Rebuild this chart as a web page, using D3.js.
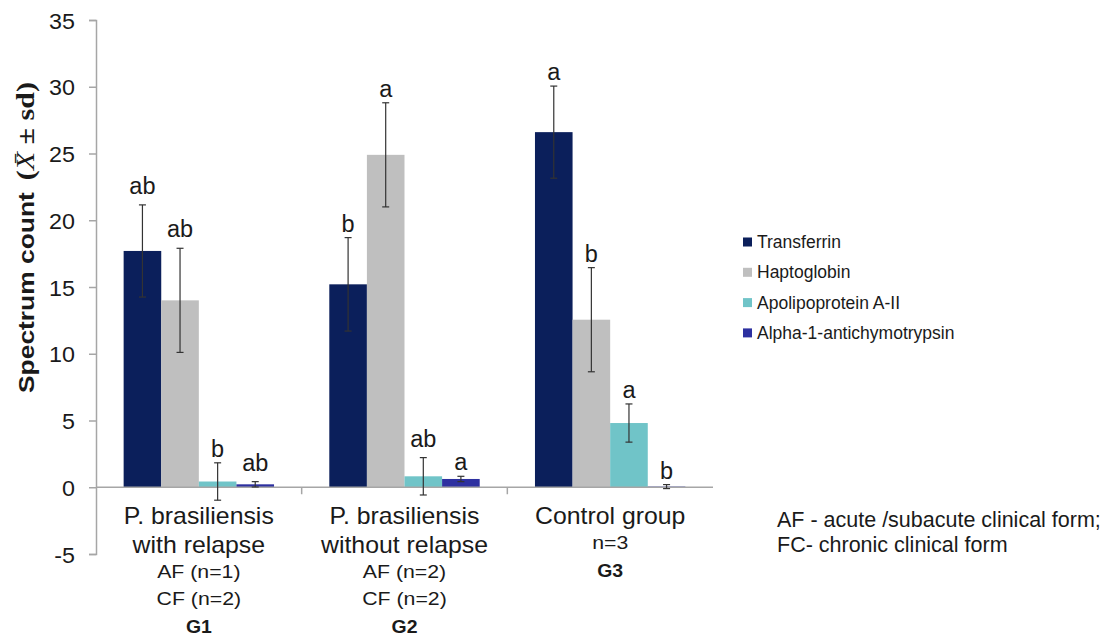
<!DOCTYPE html>
<html>
<head>
<meta charset="utf-8">
<script src="https://cdn.jsdelivr.net/npm/d3@7"></script>
<style>
  body { margin: 0; background: #fff; }
  svg { font-family: Arial, "Liberation Sans", sans-serif; }
</style>
</head>
<body>
<div id="chart"></div>
<script>
// groups on the x axis
var groups = ["G1", "G2", "G3"];
var groupLines = [["P. brasiliensis", "with relapse"], ["P. brasiliensis", "without relapse"], ["Control group"]];
var groupSubLines = [["AF (n=1)", "CF (n=2)"], ["AF (n=2)", "CF (n=2)"], ["n=3"]];

// series
var proteins = ["Transferrin", "Haptoglobin", "Apolipoprotein A-II", "Alpha-1-antichymotrypsin"];
var transferrin = [17.7, 15.2, 26.6];
var transferrinSd = [3.45, 3.5, 3.45];
var haptoglobin = [14.0, 24.9, 12.55];
var haptoglobinSd = [3.9, 3.9, 3.9];
var apolipoprotein = [0.43, 0.82, 4.81];
var apolipoproteinSd = [1.4, 1.4, 1.43];
var antichymotrypsin = [0.22, 0.62, 0.05];
var antichymotrypsinSd = [0.2, 0.2, 0.15];

// significance letters
var transferrinLetters = ["ab", "b", "a"];
var haptoglobinLetters = ["ab", "a", "b"];
var apolipoproteinLetters = ["b", "ab", "a"];
var antichymotrypsinLetters = ["ab", "a", "b"];

var yTicks = [-5, 0, 5, 10, 15, 20, 25, 30, 35];

var colors = ["#0b1f5b", "#bfbfbf", "#70c4c8", "#2d30a0"];

var seriesValues = [transferrin, haptoglobin, apolipoprotein, antichymotrypsin];
var seriesSd = [transferrinSd, haptoglobinSd, apolipoproteinSd, antichymotrypsinSd];
var seriesLetters = [transferrinLetters, haptoglobinLetters, apolipoproteinLetters, antichymotrypsinLetters];

var data = [];
groups.forEach(function(g, gi) {
  proteins.forEach(function(p, pi) {
    data.push({group: g, protein: p, value: seriesValues[pi][gi], sd: seriesSd[pi][gi], letter: seriesLetters[pi][gi], color: colors[pi]});
  });
});

var width = 1119, height = 638;
var txt = "#1a1a1a";
var svg = d3.select("#chart").append("svg")
  .attr("width", width)
  .attr("height", height);

var y = d3.scaleLinear().domain([-5, 35]).range([554, 20]);
var x0 = d3.scaleBand().domain(groups).range([96, 713]).padding(0);
var x1 = d3.scaleBand().domain(proteins).range([0, x0.bandwidth()])
  .paddingInner(0).paddingOuter(0.735);

var axisColor = "#a6a6a6";

// the figure's text is slightly wide, so stretch it sideways a little
function wideText(sel, x, yy, sx) {
  return sel.append("text")
    .attr("transform", "translate(" + x + "," + yy + ") scale(" + sx + ",1)");
}

// y axis
var yAxis = svg.append("g")
  .attr("transform", "translate(96,0)")
  .call(d3.axisLeft(y).tickValues(yTicks).tickSize(7));
yAxis.select(".domain").attr("stroke", axisColor).attr("stroke-width", 1.5);
yAxis.selectAll(".tick line").attr("stroke", axisColor).attr("stroke-width", 1.5);
yAxis.selectAll(".tick text").remove();
yAxis.selectAll(".tick").each(function(d) {
  wideText(d3.select(this), -21, 8, 1.06)
    .attr("text-anchor", "end")
    .attr("font-size", 22)
    .attr("fill", txt)
    .attr("font-family", "Arial, 'Liberation Sans', sans-serif")
    .text(String(d));
});

// bars
svg.selectAll(".bar")
  .data(data)
  .enter().append("rect")
  .attr("class", "bar")
  .attr("x", function(d) { return x0(d.group) + x1(d.protein); })
  .attr("width", x1.bandwidth())
  .attr("y", function(d) { return y(Math.max(0, d.value)); })
  .attr("height", function(d) { return Math.abs(y(d.value) - y(0)); })
  .attr("fill", function(d) { return d.color; });

// x axis line + category ticks
svg.append("line")
  .attr("x1", x0.range()[0]).attr("x2", x0.range()[1])
  .attr("y1", y(0)).attr("y2", y(0))
  .attr("stroke", axisColor).attr("stroke-width", 1.5);
svg.selectAll(".cat-tick")
  .data(groups.slice(1))
  .enter().append("line")
  .attr("class", "cat-tick")
  .attr("x1", function(d) { return x0(d); })
  .attr("x2", function(d) { return x0(d); })
  .attr("y1", y(0)).attr("y2", y(0) + 7)
  .attr("stroke", axisColor).attr("stroke-width", 1.5);

// error bars
var cx = function(d) { return x0(d.group) + x1(d.protein) + x1.bandwidth() / 2; };
var err = svg.selectAll(".err").data(data).enter().append("g").attr("class", "err")
  .attr("stroke", "#333").attr("stroke-width", 1.2);
err.append("line")
  .attr("x1", cx).attr("x2", cx)
  .attr("y1", function(d) { return y(d.value + d.sd); })
  .attr("y2", function(d) { return y(d.value - d.sd); });
err.append("line")
  .attr("x1", function(d) { return cx(d) - 3.5; }).attr("x2", function(d) { return cx(d) + 3.5; })
  .attr("y1", function(d) { return y(d.value + d.sd); })
  .attr("y2", function(d) { return y(d.value + d.sd); });
err.append("line")
  .attr("x1", function(d) { return cx(d) - 3.5; }).attr("x2", function(d) { return cx(d) + 3.5; })
  .attr("y1", function(d) { return y(d.value - d.sd); })
  .attr("y2", function(d) { return y(d.value - d.sd); });

// letters
svg.selectAll(".letter")
  .data(data)
  .enter().append("text")
  .attr("class", "letter")
  .attr("x", cx)
  .attr("y", function(d) { return y(d.value + d.sd) - (d.letter.length > 1 ? 11 : 6); })
  .attr("text-anchor", "middle")
  .attr("font-size", 23.5)
  .attr("fill", txt)
  .text(function(d) { return d.letter; });

// category labels
groups.forEach(function(g, gi) {
  var cxg = x0(g) + x0.bandwidth() / 2;
  var yy = 524;
  groupLines[gi].forEach(function(t, i) {
    wideText(svg, cxg, yy + i * 29, 1.08)
      .attr("text-anchor", "middle").attr("font-size", 23).attr("fill", txt).text(t);
  });
  yy += (groupLines[gi].length - 1) * 29 + 25;
  groupSubLines[gi].forEach(function(t, i) {
    wideText(svg, cxg, yy + i * 27, 1.12)
      .attr("text-anchor", "middle").attr("font-size", 19).attr("fill", txt).text(t);
  });
  yy += (groupSubLines[gi].length - 1) * 27 + 28;
  wideText(svg, cxg, yy, 1.08)
    .attr("text-anchor", "middle").attr("font-size", 18).attr("font-weight", "bold")
    .attr("fill", txt).text(g);
});

// y axis title
var title = svg.append("text")
  .attr("transform", "translate(34,393) rotate(-90) scale(1.2,1)")
  .attr("text-anchor", "start")
  .attr("fill", txt);
title.append("tspan").attr("font-size", 22).attr("font-weight", "bold").text("Spectrum count");
title.append("tspan").attr("font-family", "'Liberation Serif', 'DejaVu Serif', serif")
  .attr("font-size", 25).attr("font-weight", "bold").attr("dx", 10).text("(");
title.append("tspan").attr("font-family", "'Liberation Serif', 'DejaVu Serif', serif")
  .attr("font-size", 25).attr("font-style", "italic").text("X\u0304");
title.append("tspan").attr("font-family", "'Liberation Serif', 'DejaVu Serif', serif")
  .attr("font-size", 25).attr("font-weight", "bold").text(" \u00b1 sd)");

// legend
var legend = svg.selectAll(".legend")
  .data(proteins)
  .enter().append("g")
  .attr("class", "legend")
  .attr("transform", function(d, i) { return "translate(743," + (242 + i * 30.3) + ")"; });
legend.append("rect").attr("x", 0).attr("y", -4.5).attr("width", 9).attr("height", 9)
  .attr("fill", function(d, i) { return colors[i]; });
legend.append("text").attr("x", 14).attr("y", 6).attr("font-size", 17.5).attr("fill", txt)
  .text(function(d) { return d; });

// footnote
svg.append("text").attr("x", 777).attr("y", 527).attr("font-size", 21.5).attr("fill", txt)
  .text("AF - acute /subacute clinical form;");
svg.append("text").attr("x", 777).attr("y", 552).attr("font-size", 21.5).attr("fill", txt)
  .text("FC- chronic clinical form");
</script>
</body>
</html>
